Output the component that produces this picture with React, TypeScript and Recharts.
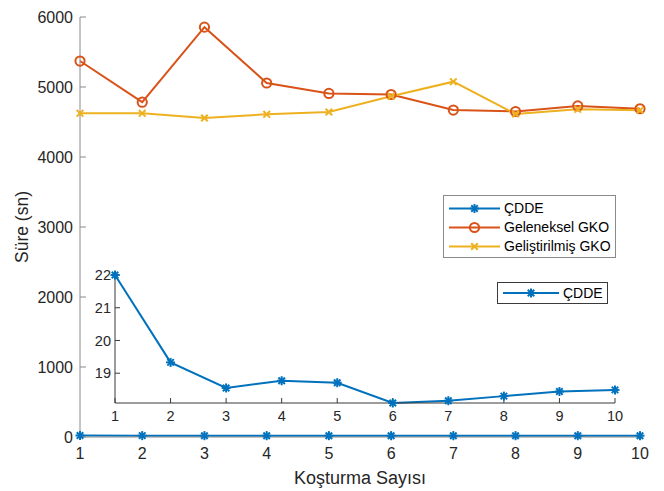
import React from 'react';
import { LineChart, Line, XAxis, YAxis, Legend, CartesianGrid } from 'recharts';

const runs = [1, 2, 3, 4, 5, 6, 7, 8, 9, 10];
const cdde = [22.0, 19.33, 18.55, 18.77, 18.71, 18.09, 18.16, 18.3, 18.44, 18.49];
const geleneksel = [5371, 4783, 5855, 5057, 4908, 4893, 4671, 4650, 4729, 4689];
const gelistirilmis = [4624, 4624, 4557, 4610, 4643, 4867, 5076, 4614, 4681, 4667];
const mainYTicks = [0, 1000, 2000, 3000, 4000, 5000, 6000];
const insetYTicks = [19, 20, 21, 22];

const seriesNames = ['ÇDDE', 'Geleneksel GKO', 'Geliştirilmiş GKO'];
const colors = ['#0072BD', '#D95319', '#EDB120'];

const mainData = runs.map((r, i) => ({ run: r, cdde: cdde[i], gel: geleneksel[i], gelis: gelistirilmis[i] }));
const insetData = runs.map((r, i) => ({ run: r, cdde: cdde[i] }));

const FONT = '"Liberation Sans", Arial, Helvetica, sans-serif';
const TXT = '#262626';

function Star({ cx, cy, color }: any) {
  const r = 4.5;
  const d = r * 0.72;
  return (
    <g stroke={color} strokeWidth={2} fill="none">
      <line x1={cx - r} y1={cy} x2={cx + r} y2={cy} />
      <line x1={cx} y1={cy - r} x2={cx} y2={cy + r} />
      <line x1={cx - d} y1={cy - d} x2={cx + d} y2={cy + d} />
      <line x1={cx - d} y1={cy + d} x2={cx + d} y2={cy - d} />
    </g>
  );
}
function Circ({ cx, cy, color }: any) {
  return <circle cx={cx} cy={cy} r={4.6} stroke={color} strokeWidth={2} fill="none" />;
}
function XMark({ cx, cy, color }: any) {
  const d = 3.3;
  return (
    <g stroke={color} strokeWidth={2} fill="none">
      <line x1={cx - d} y1={cy - d} x2={cx + d} y2={cy + d} />
      <line x1={cx - d} y1={cy + d} x2={cx + d} y2={cy - d} />
    </g>
  );
}
const markers = [Star, Circ, XMark];

const makeDot = (idx: number) => (props: any) => {
  const M = markers[idx];
  if (props.cx == null || props.cy == null) return <g key={`${idx}-${props.index}`} />;
  return <M key={`${idx}-${props.index}`} cx={props.cx} cy={props.cy} color={colors[idx]} />;
};

function LegendBox({ items, lineW, fontSize, rowH, borderColor, pad }: any) {
  return (
    <div style={{ border: `1px solid ${borderColor}`, background: '#fff', padding: pad, fontFamily: FONT, fontSize, color: '#000', lineHeight: `${rowH}px` }}>
      {items.map((idx: number) => {
        const M = markers[idx];
        return (
          <div key={idx} style={{ display: 'flex', alignItems: 'center', height: rowH, whiteSpace: 'nowrap' }}>
            <svg width={lineW} height={rowH} style={{ display: 'block', marginRight: 3 }}>
              <line x1={1} y1={rowH / 2} x2={lineW - 1} y2={rowH / 2} stroke={colors[idx]} strokeWidth={2} />
              <M cx={lineW / 2} cy={rowH / 2} color={colors[idx]} />
            </svg>
            <span>{seriesNames[idx]}</span>
          </div>
        );
      })}
    </div>
  );
}

export default function App() {
  const mainStroke = '#8a8a8a';
  const inStroke = '#3a3a3a';
  return (
    <div style={{ position: 'absolute', left: 0, top: 0, width: 664, height: 491, background: '#fff', fontFamily: FONT }}>
      <div style={{ position: 'absolute', left: 0, top: 0 }}>
        <LineChart width={664} height={491} data={mainData} margin={{ top: 17, right: 24, bottom: 24, left: 20 }}>
          <XAxis
            xAxisId="b"
            dataKey="run"
            type="number"
            domain={[1, 10]}
            ticks={runs}
            stroke={mainStroke}
            tick={{ fill: TXT, fontSize: 16 }}
            tickSize={-6}
            tickMargin={17}
            height={30}
            interval={0}
            label={{ value: 'Koşturma Sayısı', position: 'bottom', offset: 4, fill: TXT, fontSize: 18 }}
          />
          <XAxis xAxisId="t" orientation="top" dataKey="run" type="number" domain={[1, 10]} ticks={runs} stroke={mainStroke} tick={false} tickSize={-6} height={0} interval={0} />
          <YAxis
            yAxisId="l"
            type="number"
            domain={[0, 6000]}
            ticks={mainYTicks}
            stroke={mainStroke}
            tick={{ fill: TXT, fontSize: 16 }}
            tickSize={-6}
            tickMargin={13}
            width={60}
            interval={0}
            label={{ value: 'Süre (sn)', angle: -90, position: 'insideLeft', offset: 2, fill: TXT, fontSize: 17.5, style: { textAnchor: 'middle' } }}
          />
          <YAxis yAxisId="r" orientation="right" type="number" domain={[0, 6000]} ticks={mainYTicks} stroke={mainStroke} tick={false} tickSize={-6} width={0} interval={0} />
          <Legend
            layout="vertical"
            align="center"
            verticalAlign="middle"
            wrapperStyle={{ left: 443, top: 195, width: 'auto' }}
            content={() => <LegendBox items={[0, 1, 2]} lineW={53} fontSize={14} rowH={19} borderColor="#8a8a8a" pad="3px 4px 1px 4px" />}
          />
          <Line xAxisId="b" yAxisId="l" dataKey="cdde" name={seriesNames[0]} stroke={colors[0]} strokeWidth={2} dot={makeDot(0)} isAnimationActive={false} />
          <Line xAxisId="b" yAxisId="l" dataKey="gel" name={seriesNames[1]} stroke={colors[1]} strokeWidth={2} dot={makeDot(1)} isAnimationActive={false} />
          <Line xAxisId="b" yAxisId="l" dataKey="gelis" name={seriesNames[2]} stroke={colors[2]} strokeWidth={2} dot={makeDot(2)} isAnimationActive={false} />
        </LineChart>
      </div>
      <div style={{ position: 'absolute', left: 80, top: 265 }}>
        <LineChart width={545} height={165} data={insetData} margin={{ top: 10, right: 10, bottom: 5, left: 10 }}>
          <CartesianGrid xAxisId="b" yAxisId="l" horizontal={false} vertical={false} fill="#fff" />
          <XAxis
            xAxisId="b"
            dataKey="run"
            type="number"
            domain={[1, 10]}
            ticks={runs}
            stroke={inStroke}
            tick={{ fill: TXT, fontSize: 14.5 }}
            tickSize={-5}
            tickMargin={13}
            height={22}
            interval={0}
          />
          <XAxis xAxisId="t" orientation="top" dataKey="run" type="number" domain={[1, 10]} ticks={runs} stroke={inStroke} tick={false} tickSize={-5} height={0} interval={0} />
          <YAxis
            yAxisId="l"
            type="number"
            domain={['dataMin', 'dataMax']}
            ticks={insetYTicks}
            stroke={inStroke}
            tick={{ fill: TXT, fontSize: 14.5 }}
            tickSize={-5}
            tickMargin={9}
            width={25}
            interval={0}
          />
          <YAxis yAxisId="r" orientation="right" type="number" domain={['dataMin', 'dataMax']} ticks={insetYTicks} stroke={inStroke} tick={false} tickSize={-5} width={0} interval={0} />
          <Legend
            layout="vertical"
            align="center"
            verticalAlign="middle"
            wrapperStyle={{ left: 417, top: 17, width: 'auto' }}
            content={() => <LegendBox items={[0]} lineW={58} fontSize={14} rowH={18} borderColor="#3a3a3a" pad="1px 4px 1px 4px" />}
          />
          <Line xAxisId="b" yAxisId="l" dataKey="cdde" name={seriesNames[0]} stroke={colors[0]} strokeWidth={2} dot={makeDot(0)} isAnimationActive={false} />
        </LineChart>
      </div>
    </div>
  );
}
